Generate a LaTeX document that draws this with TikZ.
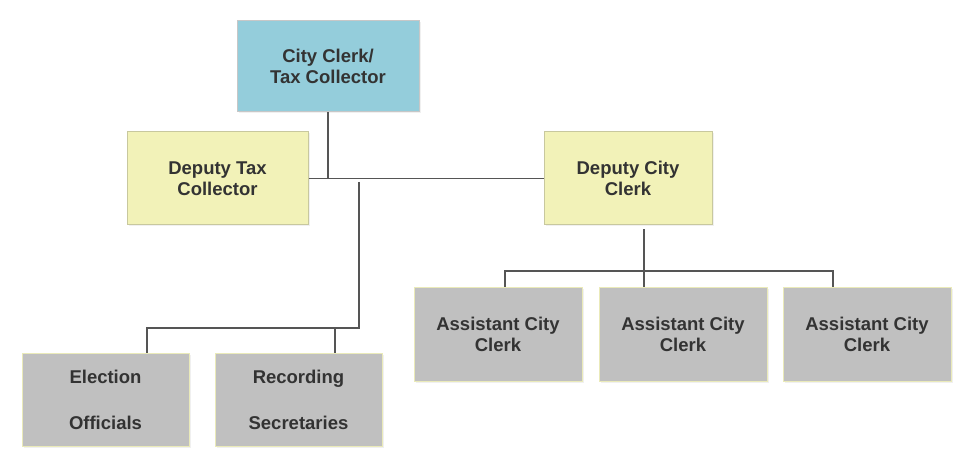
\documentclass[tikz,border=0pt]{standalone}
\usepackage{fontspec}
\setmainfont{Liberation Sans}
\usepackage{tikz}
\usetikzlibrary{positioning, shadows}
\definecolor{clerkblue}{RGB}{148,205,219}
\definecolor{deputyyellow}{RGB}{242,242,184}
\definecolor{staffgray}{RGB}{192,192,192}
\definecolor{textgray}{RGB}{51,51,51}
\definecolor{linegray}{RGB}{85,85,85}

\tikzset{
    orgbox/.style={draw, line width=1pt, align=center, text=textgray,
        font=\fontsize{18.5}{21}\selectfont\bfseries,
        drop shadow={opacity=0.12, shadow xshift=1.5pt, shadow yshift=-1.5pt}},
    topbox/.style={orgbox, fill=clerkblue, draw=black!22, minimum width=182pt, minimum height=91pt},
    deputybox/.style={orgbox, fill=deputyyellow, draw=deputyyellow!80!black!90, minimum height=93pt},
    staffbox/.style={orgbox, fill=staffgray, draw=deputyyellow!85!staffgray, minimum width=168pt, minimum height=94pt},
    link/.style={draw=linegray, line width=1.2pt}
}

\begin{document}
\begin{tikzpicture}[x=1pt, y=-1pt]
        \useasboundingbox (0,0) rectangle (974,470);

        % Main components
        \node[topbox] (clerk) at (328,66.5) {City Clerk/\\Tax Collector};
        \node[deputybox, minimum width=181pt] (dtax) at (217.5,178.5) {Deputy Tax\\Collector};
        \node[deputybox, minimum width=168pt] (dcity) at (628,178.5) {Deputy City\\Clerk};

        % Assistant clerks
        \node[staffbox] (ac1) at (498,334) {Assistant City\\Clerk};
        \node[staffbox] (ac2) at (683,334) {Assistant City\\Clerk};
        \node[staffbox] (ac3) at (867,334) {Assistant City\\Clerk};

        % Elections and records
        \node[staffbox, minimum width=167pt, minimum height=93pt, font=\fontsize{18.5}{46}\selectfont\bfseries] (elect) at (105.5,399.5) {Election\\Officials};
        \node[staffbox, minimum width=167pt, minimum height=93pt, font=\fontsize{18.5}{46}\selectfont\bfseries] (recsec) at (298.5,399.5) {Recording\\Secretaries};

        \coordinate (ldrop) at (359,182);
        \coordinate (lbar) at (359,328);
        \coordinate (rbar) at (644,271);

        % Lines
        \draw[link] (clerk.south) -- (clerk.south |- dtax.east);
        \draw[link] (dtax.east) -- (dcity.west);
        \draw[link] (ldrop) -- (lbar) -| ([xshift=41.5pt]elect.north);
        \draw[link] ([xshift=36.5pt]recsec.north) -- ([xshift=36.5pt]recsec.north |- lbar);
        \draw[link] ([xshift=16pt,yshift=-4pt]dcity.south) -- ([xshift=-39pt]ac2.north);
        \draw[link] ([xshift=7pt]ac1.north) |- (rbar) -| ([xshift=-34pt]ac3.north);
    \end{tikzpicture}
\end{document}
